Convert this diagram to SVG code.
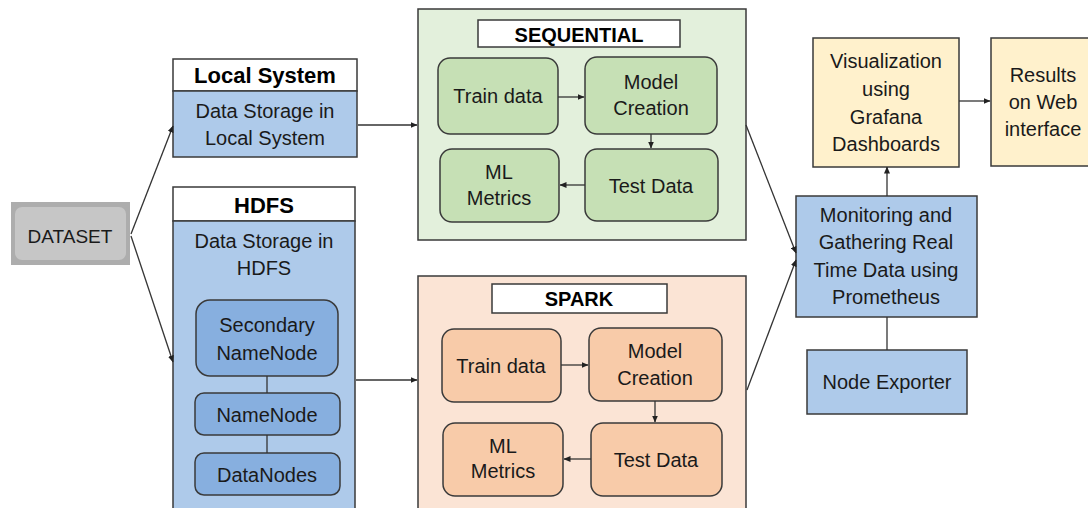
<svg xmlns="http://www.w3.org/2000/svg" width="1088" height="508" viewBox="0 0 1088 508">
<style>
text{font-family:"Liberation Sans",Arial,sans-serif;font-size:20px;fill:#1a1a1a;text-anchor:middle}
.b{font-weight:bold;fill:#000}
.h22{font-size:22px}
.box{stroke:#3a3a3a;stroke-width:1.5}
.white{fill:#fff}
.blue{fill:#aecaea}
.dblue{fill:#87afdf}
.green{fill:#e3f0dc}
.dgreen{fill:#c6e0b5}
.peach{fill:#fbe4d5}
.dpeach{fill:#f8cba9}
.yellow{fill:#fff1cc}
.conn{stroke:#333;stroke-width:1.3;fill:none}
</style>
<defs>
<marker id="ah" markerWidth="7" markerHeight="6" refX="6.5" refY="3" orient="auto" markerUnits="userSpaceOnUse">
<path d="M0,0 L7,3 L0,6 z" fill="#222"/>
</marker>
</defs>
<rect width="1088" height="508" fill="#fff"/>

<g id="dataset">
<rect x="11" y="202" width="119" height="63" fill="#adadad"/>
<rect x="15" y="207" width="111" height="53" rx="7" fill="#c6c6c6"/>
<text x="70" y="243" style="font-size:19px">DATASET</text>
</g>

<g id="local-system">
<rect class="box white" x="173" y="59" width="184" height="32"/>
<text class="b h22" x="265" y="83">Local System</text>
<rect class="box blue" x="173" y="91" width="184" height="66"/>
<text x="265" y="118">Data Storage in</text>
<text x="265" y="145">Local System</text>
</g>

<g id="hdfs">
<rect class="box white" x="173" y="187" width="182" height="34"/>
<text class="b h22" x="264" y="213">HDFS</text>
<rect class="box blue" x="173" y="221" width="182" height="292"/>
<text x="264" y="248">Data Storage in</text>
<text x="264" y="275">HDFS</text>
</g>
<g id="secondary-namenode">
<rect class="box dblue" x="196" y="300" width="142" height="76" rx="14"/>
<text x="267" y="332">Secondary</text>
<text x="267" y="360">NameNode</text>
</g>
<g id="namenode">
<rect class="box dblue" x="195" y="393" width="145" height="42" rx="9"/>
<text x="267" y="422">NameNode</text>
</g>
<g id="datanodes">
<rect class="box dblue" x="195" y="453" width="145" height="42" rx="9"/>
<text x="267" y="482">DataNodes</text>
</g>

<g id="sequential">
<rect class="box green" x="418" y="9" width="328" height="231"/>
<rect class="box white" x="478" y="20" width="202" height="27"/>
<text class="b" x="579" y="42">SEQUENTIAL</text>
</g>
<g id="seq-train">
<rect class="box dgreen" x="438" y="58" width="120" height="76" rx="12"/>
<text x="498" y="103">Train data</text>
</g>
<g id="seq-model">
<rect class="box dgreen" x="585" y="57" width="132" height="77" rx="12"/>
<text x="651" y="89">Model</text>
<text x="651" y="115">Creation</text>
</g>
<g id="seq-ml">
<rect class="box dgreen" x="440" y="149" width="119" height="73" rx="12"/>
<text x="499" y="179">ML</text>
<text x="499" y="205">Metrics</text>
</g>
<g id="seq-test">
<rect class="box dgreen" x="585" y="149" width="133" height="72" rx="12"/>
<text x="651" y="193">Test Data</text>
</g>

<g id="spark">
<rect class="box peach" x="418" y="276" width="328" height="240"/>
<rect class="box white" x="492" y="284" width="175" height="29"/>
<text class="b" x="579" y="306">SPARK</text>
</g>
<g id="spark-train">
<rect class="box dpeach" x="442" y="329" width="119" height="73" rx="12"/>
<text x="501" y="373">Train data</text>
</g>
<g id="spark-model">
<rect class="box dpeach" x="589" y="328" width="133" height="73" rx="12"/>
<text x="655" y="358">Model</text>
<text x="655" y="385">Creation</text>
</g>
<g id="spark-ml">
<rect class="box dpeach" x="443" y="423" width="120" height="73" rx="12"/>
<text x="503" y="453">ML</text>
<text x="503" y="478">Metrics</text>
</g>
<g id="spark-test">
<rect class="box dpeach" x="591" y="423" width="131" height="73" rx="12"/>
<text x="656" y="467">Test Data</text>
</g>

<g id="visualization">
<rect class="box yellow" x="813" y="38" width="146" height="129"/>
<text x="886" y="68">Visualization</text>
<text x="886" y="96">using</text>
<text x="886" y="124">Grafana</text>
<text x="886" y="151">Dashboards</text>
</g>
<g id="results">
<rect class="box yellow" x="991" y="38" width="110" height="128"/>
<text x="1043" y="82">Results</text>
<text x="1043" y="109">on Web</text>
<text x="1043" y="136">interface</text>
</g>
<g id="monitoring">
<rect class="box blue" x="796" y="196" width="181" height="121"/>
<text x="886" y="222">Monitoring and</text>
<text x="886" y="249">Gathering Real</text>
<text x="886" y="277">Time Data using</text>
<text x="886" y="304">Prometheus</text>
</g>
<g id="node-exporter">
<rect class="box blue" x="807" y="350" width="160" height="64"/>
<text x="887" y="389">Node Exporter</text>
</g>

<g id="connectors">
<path class="conn" d="M131,234 L173,126" marker-end="url(#ah)"/>
<path class="conn" d="M131,236 L173,362" marker-end="url(#ah)"/>
<path class="conn" d="M358,125 L417,125" marker-end="url(#ah)"/>
<path class="conn" d="M356,380 L417,380" marker-end="url(#ah)"/>
<path class="conn" d="M267,376 L267,393"/>
<path class="conn" d="M267,435 L267,453"/>
<path class="conn" d="M558,97 L584,97" marker-end="url(#ah)"/>
<path class="conn" d="M651,134 L651,148" marker-end="url(#ah)"/>
<path class="conn" d="M585,185 L560,185" marker-end="url(#ah)"/>
<path class="conn" d="M561,365 L588,365" marker-end="url(#ah)"/>
<path class="conn" d="M655,401 L655,422" marker-end="url(#ah)"/>
<path class="conn" d="M591,459 L564,459" marker-end="url(#ah)"/>
<path class="conn" d="M746,125 L796,253" marker-end="url(#ah)"/>
<path class="conn" d="M747,390 L796,260" marker-end="url(#ah)"/>
<path class="conn" d="M887,196 L887,167" marker-end="url(#ah)"/>
<path class="conn" d="M959,101 L990,101" marker-end="url(#ah)"/>
<path class="conn" d="M887,350 L887,317"/>
</g>
</svg>
